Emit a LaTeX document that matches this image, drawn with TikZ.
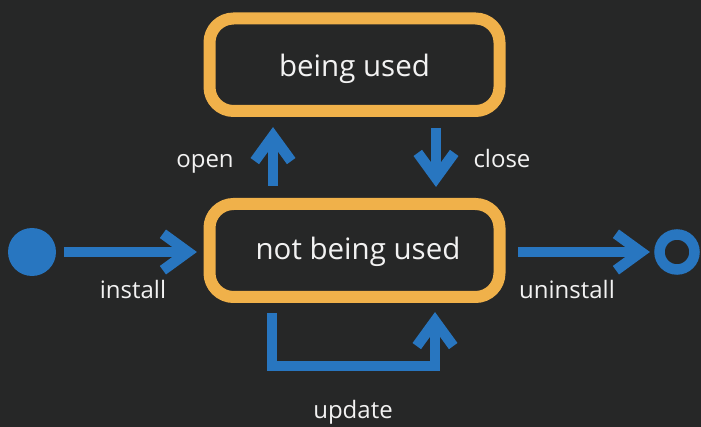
\documentclass[tikz,border=0pt]{standalone}
\usepackage{fontspec}
\setmainfont{Open Sans}
\usetikzlibrary{calc}
\definecolor{bgc}{HTML}{262727}
\definecolor{orng}{HTML}{F0B14A}
\definecolor{blu}{HTML}{2876C0}
\definecolor{txt}{HTML}{F2F2F2}
\tikzset{
  statebox/.style={draw=orng, fill=bgc, line width=12pt, rounded corners=24pt,
    minimum width=290pt, outer sep=0pt, inner sep=0pt, text=txt,
    font=\fontsize{29.5}{35}\selectfont, text height=24.5pt, text depth=0pt},
  conn/.style={draw=blu, line width=10.5pt, line join=miter, line cap=butt},
  chev/.style={draw=blu, line width=10.5pt, line join=miter, miter limit=10, line cap=butt},
  lbl/.style={text=txt, font=\fontsize{24}{29}\selectfont, anchor=base, inner sep=0pt},
}
\newcommand{\chevat}[2]{\draw[chev] (#1) ++(#2+144:31) -- (#1) -- ++(#2-144:31);}
\begin{document}
\begin{tikzpicture}[x=1pt,y=-1pt]
\fill[bgc] (0,0) rectangle (701,427);
\useasboundingbox (0,0) rectangle (701,427);
\node[statebox, minimum height=92.5pt] (bu) at (354.5,64.75) {being used};
\node[statebox, minimum height=93pt, text height=19pt] (nb) at (354.5,250.5) {\hspace*{7pt}not being used};
\node[circle, fill=blu, minimum size=48pt, inner sep=0pt, outer sep=0pt] (start) at (32,252) {};
\node[circle, draw=blu, line width=10.5pt, minimum size=35pt, inner sep=0pt, outer sep=0pt] (end) at (677,252) {};
% install
\coordinate (v1) at ([shift={(-21.5,1.5)}]nb.west);
\draw[conn] ([shift={(8,0)}]start.east) -- (v1);
\chevat{v1}{0}
% uninstall
\coordinate (v2) at ([shift={(-18.5,0)}]end.west);
\draw[conn] ([shift={(18.5,1.5)}]nb.east) -- (v2);
\chevat{v2}{0}
% open
\coordinate (v3) at ([shift={(-81.5,25)}]bu.south);
\draw[conn] ([shift={(-81.5,-18)}]nb.north) -- (v3);
\chevat{v3}{270}
% close
\coordinate (v4) at ([shift={(81.5,-26)}]nb.north);
\draw[conn] ([shift={(81.5,17)}]bu.south) -- (v4);
\chevat{v4}{90}
% update
\coordinate (v5) at ([shift={(80.5,24)}]nb.south);
\draw[conn] ([shift={(-82.5,16)}]nb.south) -- ++(0,53) -| (v5);
\chevat{v5}{270}
% labels
\node[lbl] (linstall) at (133,299) {install};
\node[lbl] (luninstall) at (567,299) {uninstall};
\node[lbl] (lopen) at (205,168) {open};
\node[lbl] (lclose) at (502,168) {close};
\node[lbl] (lupdate) at (353,418) {update};
\end{tikzpicture}
\end{document}
